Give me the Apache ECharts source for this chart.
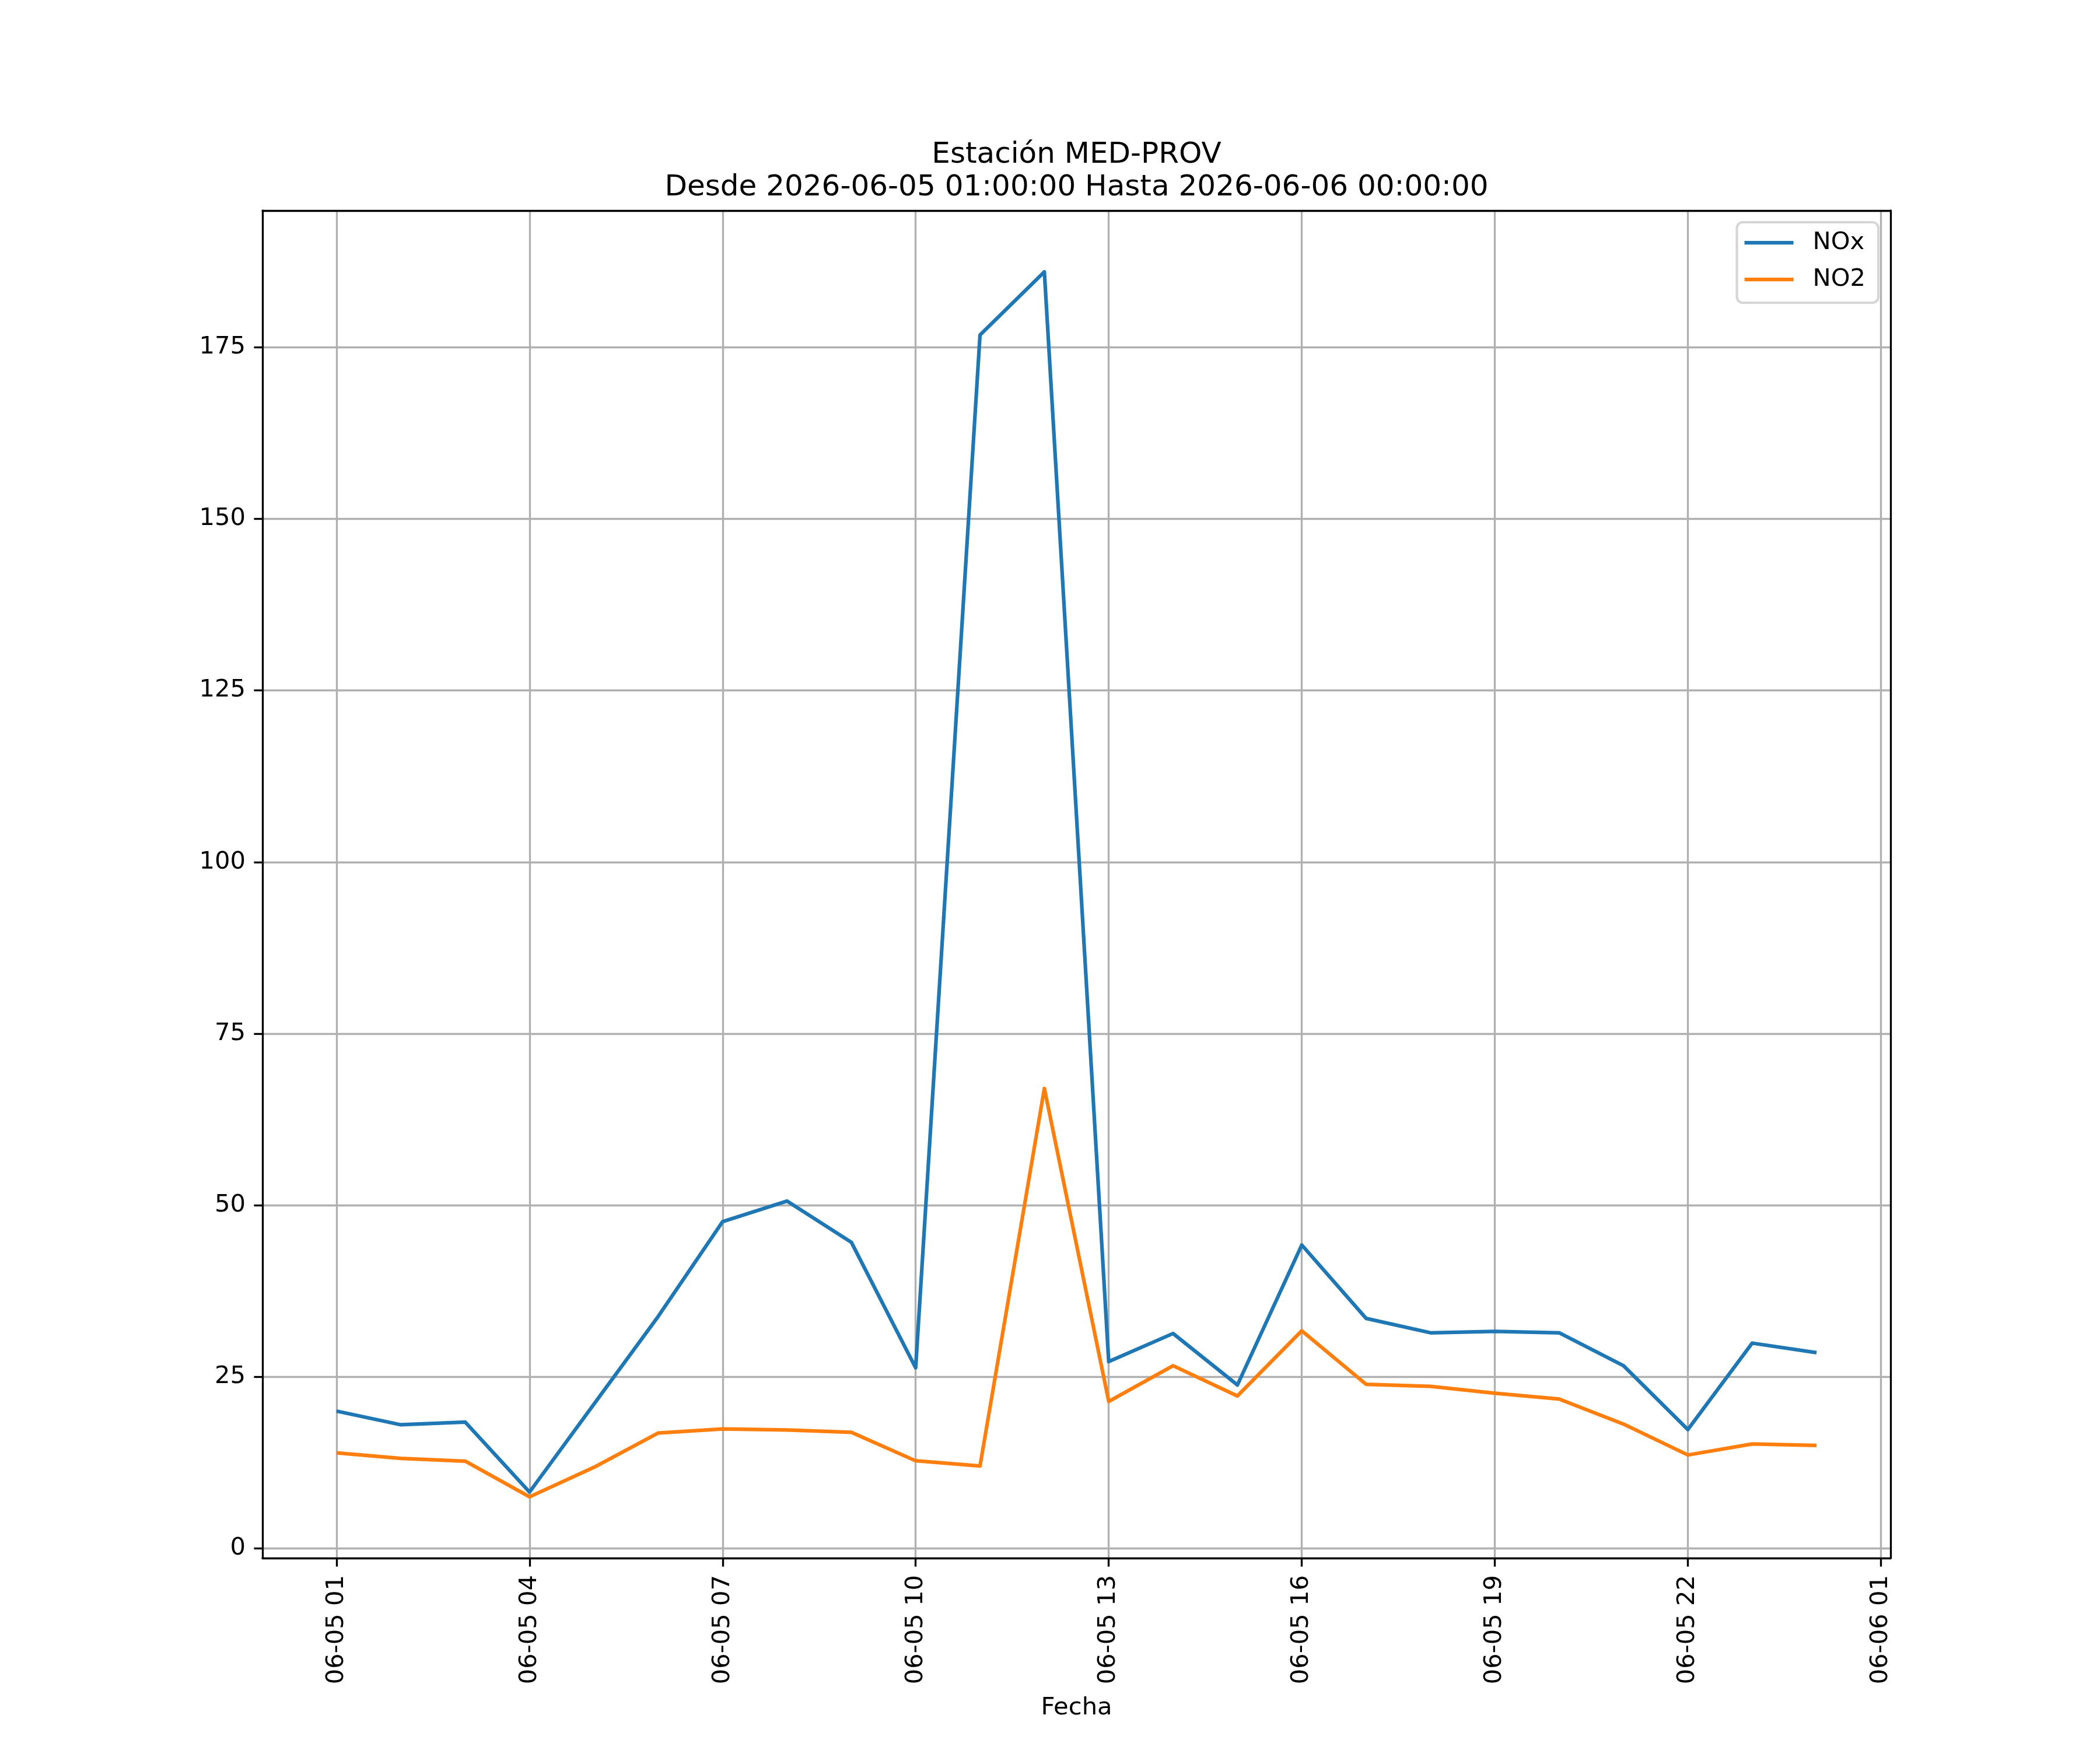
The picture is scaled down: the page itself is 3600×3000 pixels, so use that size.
<!DOCTYPE html>
<html>
<head>
<meta charset="utf-8">
<script src="https://cdn.jsdelivr.net/npm/echarts@6/dist/echarts.min.js"></script>
<style>
html, body { margin: 0; padding: 0; background: #fff; }
#chart { width: 3600px; height: 3000px; }
</style>
</head>
<body>
<div id="chart"></div>
<script>
// Hours of 2026-06-05 (24 = 2026-06-06 00:00)
const hours = [1, 2, 3, 4, 5, 6, 7, 8, 9, 10, 11, 12, 13, 14, 15, 16, 17, 18, 19, 20, 21, 22, 23, 24];
const noxValues = [20.0, 18.0, 18.4, 8.2, 21.0, 33.8, 47.6, 50.6, 44.6, 26.3, 176.8, 186.0, 27.2, 31.3, 23.8, 44.2, 33.5, 31.4, 31.6, 31.4, 26.6, 17.3, 29.9, 28.5];
const no2Values = [13.9, 13.1, 12.7, 7.5, 11.8, 16.8, 17.4, 17.25, 16.9, 12.75, 12.0, 67.0, 21.4, 26.6, 22.2, 31.7, 23.9, 23.6, 22.6, 21.75, 18.1, 13.6, 15.2, 15.0];
const xTickValues = [1, 4, 7, 10, 13, 16, 19, 22, 25];
const xTickLabels = ['06-05 01', '06-05 04', '06-05 07', '06-05 10', '06-05 13', '06-05 16', '06-05 19', '06-05 22', '06-06 01'];
const yTickValues = [0, 25, 50, 75, 100, 125, 150, 175];
const seriesNames = ['NOx', 'NO2'];
const titleText = 'Estación MED-PROV\nDesde 2026-06-05 01:00:00 Hasta 2026-06-06 00:00:00';
const xAxisName = 'Fecha';

// matplotlib-like 5% autoscale margins
const xr = hours[hours.length - 1] - hours[0];
const xMin = hours[0] - 0.05 * xr, xMax = hours[hours.length - 1] + 0.05 * xr;
const allY = noxValues.concat(no2Values);
const yLo = Math.min.apply(null, allY), yHi = Math.max.apply(null, allY);
const yr = yHi - yLo;
const yMin = yLo - 0.05 * yr, yMax = yHi + 0.05 * yr;

const FONT = 'DejaVu Sans';
const FS = 41.67;
const LW = 3.33;
const labelMap = {};
xTickValues.forEach((v, i) => { labelMap[v] = xTickLabels[i]; });

const chart = echarts.init(document.getElementById('chart'), null, { renderer: 'canvas' });
chart.setOption({
  animation: false,
  backgroundColor: '#ffffff',
  textStyle: { fontFamily: FONT },
  title: {
    text: titleText,
    left: 1845.5,
    top: 238,
    padding: 0,
    textAlign: 'center',
    textStyle: { fontFamily: FONT, fontSize: 50, fontWeight: 'normal', color: '#000', lineHeight: 56 }
  },
  legend: {
    orient: 'vertical',
    right: 380,
    top: 381,
    padding: [14, 22, 19, 13],
    itemGap: 21,
    itemWidth: 84,
    itemHeight: 6.25,
    icon: 'rect',
    backgroundColor: '#ffffff',
    borderColor: '#d6d6d6',
    borderWidth: 4.17,
    borderRadius: 10,
    data: seriesNames,
    textStyle: { fontFamily: FONT, fontSize: FS, color: '#000', padding: [0, 0, 0, 28] }
  },
  grid: { left: 450, right: 359, top: 361, bottom: 329, containLabel: false },
  xAxis: [
    {
      type: 'value',
      min: xMin,
      max: xMax,
      position: 'bottom',
      name: xAxisName,
      nameLocation: 'middle',
      nameGap: 236,
      nameTextStyle: { fontFamily: FONT, fontSize: FS, color: '#000' },
      axisLine: { show: true, onZero: false, lineStyle: { color: '#000', width: LW } },
      axisTick: { show: true, length: 14.6, customValues: xTickValues, lineStyle: { color: '#000', width: LW } },
      axisLabel: {
        show: true, rotate: 90, margin: 29, customValues: xTickValues,
        fontFamily: FONT, fontSize: FS, color: '#000',
        formatter: v => labelMap[v] !== undefined ? labelMap[v] : ''
      },
      splitLine: { show: true, lineStyle: { color: '#b0b0b0', width: LW } }
    },
    {
      type: 'value',
      min: xMin,
      max: xMax,
      position: 'top',
      z: 5,
      axisLine: { show: true, onZero: false, lineStyle: { color: '#000', width: LW } },
      axisTick: { show: false },
      axisLabel: { show: false },
      splitLine: { show: false }
    }
  ],
  yAxis: [
    {
      type: 'value',
      min: yMin,
      max: yMax,
      position: 'left',
      axisLine: { show: true, onZero: false, lineStyle: { color: '#000', width: LW } },
      axisTick: { show: true, length: 14.6, customValues: yTickValues, lineStyle: { color: '#000', width: LW } },
      axisLabel: {
        show: true, margin: 29, customValues: yTickValues,
        fontFamily: FONT, fontSize: FS, color: '#000',
        formatter: v => String(v)
      },
      splitLine: { show: true, lineStyle: { color: '#b0b0b0', width: LW } }
    },
    {
      type: 'value',
      min: yMin,
      max: yMax,
      position: 'right',
      z: 5,
      axisLine: { show: true, onZero: false, lineStyle: { color: '#000', width: LW } },
      axisTick: { show: false },
      axisLabel: { show: false },
      splitLine: { show: false }
    }
  ],
  series: [
    {
      name: seriesNames[0],
      type: 'line',
      xAxisIndex: 0,
      yAxisIndex: 0,
      data: hours.map((h, i) => [h, noxValues[i]]),
      showSymbol: false,
      symbol: 'none',
      smooth: false,
      color: '#1f77b4',
      lineStyle: { color: '#1f77b4', width: 6.25, join: 'round', cap: 'butt' },
      itemStyle: { color: '#1f77b4' },
      z: 3
    },
    {
      name: seriesNames[1],
      type: 'line',
      xAxisIndex: 0,
      yAxisIndex: 0,
      data: hours.map((h, i) => [h, no2Values[i]]),
      showSymbol: false,
      symbol: 'none',
      smooth: false,
      color: '#ff7f0e',
      lineStyle: { color: '#ff7f0e', width: 6.25, join: 'round', cap: 'butt' },
      itemStyle: { color: '#ff7f0e' },
      z: 3
    }
  ]
});
</script>
</body>
</html>
